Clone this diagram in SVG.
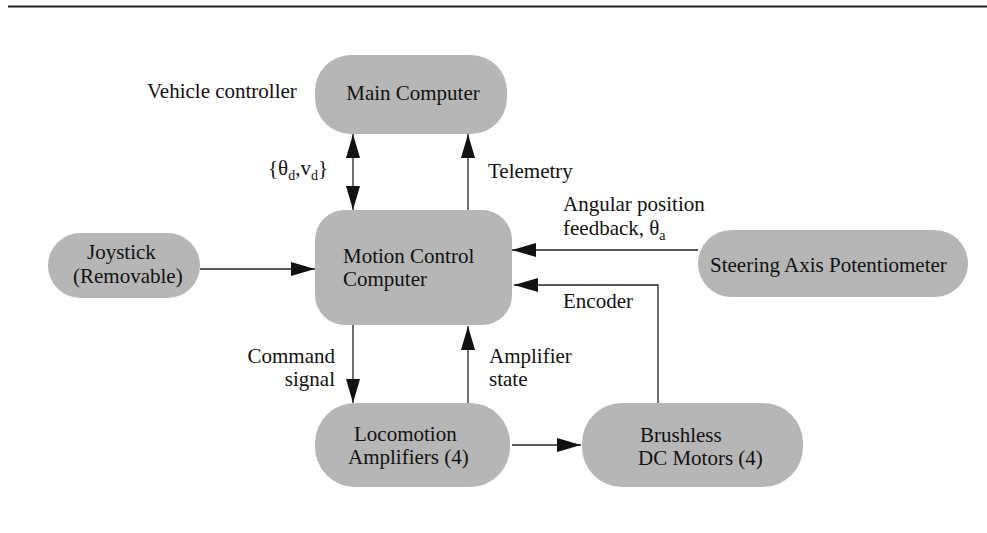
<svg xmlns="http://www.w3.org/2000/svg" width="987" height="533" viewBox="0 0 987 533">
<style>
.node{fill:#b6b6b6;stroke:none}
.t{font-family:"Liberation Serif","Times New Roman",serif;font-size:21px;fill:#111}
.sub{font-size:14px}
.c{fill:none;stroke:#222;stroke-width:1.3}
</style>
<defs>
<marker id="ah" markerUnits="userSpaceOnUse" markerWidth="24" markerHeight="14" refX="24" refY="7" orient="auto-start-reverse" viewBox="0 0 24 14">
<path d="M0,0 L24,7 L0,14 z" fill="#111"/>
</marker>
</defs>
<rect width="987" height="533" fill="#fff"/>
<line x1="8" y1="6.5" x2="987" y2="6.5" stroke="#222" stroke-width="2"/>

<g id="connectors">
<path class="c" d="M353,134 L353,210" marker-start="url(#ah)" marker-end="url(#ah)"/>
<path class="c" d="M468,210 L468,134" marker-end="url(#ah)"/>
<path class="c" d="M200,269 L315,269" marker-end="url(#ah)"/>
<path class="c" d="M698,250 L512,250" marker-end="url(#ah)"/>
<path class="c" d="M658,403 L658,285 L514,285" marker-end="url(#ah)"/>
<path class="c" d="M353,325 L353,403" marker-end="url(#ah)"/>
<path class="c" d="M468,403 L468,326" marker-end="url(#ah)"/>
<path class="c" d="M512,445 L581,445" marker-end="url(#ah)"/>
</g>

<g id="labels">
<text class="t" x="147" y="98">Vehicle controller</text>
<text class="t" x="268" y="175">{θ<tspan class="sub" dy="5">d</tspan><tspan dy="-5">,v</tspan><tspan class="sub" dy="5">d</tspan><tspan dy="-5">}</tspan></text>
<text class="t" x="488" y="178">Telemetry</text>
<text class="t" x="563" y="211">Angular position</text>
<text class="t" x="563" y="235">feedback, θ<tspan class="sub" dy="5">a</tspan></text>
<text class="t" x="563" y="308">Encoder</text>
<text class="t" x="335" y="363" text-anchor="end">Command</text>
<text class="t" x="335" y="386" text-anchor="end">signal</text>
<text class="t" x="489" y="363">Amplifier</text>
<text class="t" x="489" y="386">state</text>
</g>

<g id="main-computer">
<rect class="node" x="315" y="55" width="192" height="79" rx="36" ry="36"/>
<text class="t" x="413" y="100" text-anchor="middle">Main Computer</text>
</g>

<g id="motion-control-computer">
<rect class="node" x="315" y="210" width="197" height="115" rx="30" ry="30"/>
<text class="t" x="343" y="263">Motion Control</text>
<text class="t" x="343" y="286">Computer</text>
</g>

<g id="joystick">
<rect class="node" x="48" y="233" width="152" height="65" rx="32.5" ry="32.5"/>
<text class="t" x="87" y="259">Joystick</text>
<text class="t" x="73" y="283">(Removable)</text>
</g>

<g id="steering-axis-potentiometer">
<rect class="node" x="698" y="230" width="270" height="67" rx="33.5" ry="33.5"/>
<text class="t" x="710" y="272">Steering Axis Potentiometer</text>
</g>

<g id="locomotion-amplifiers">
<rect class="node" x="315" y="403" width="195" height="84" rx="40" ry="40"/>
<text class="t" x="354" y="441">Locomotion</text>
<text class="t" x="348" y="464">Amplifiers (4)</text>
</g>

<g id="brushless-dc-motors">
<rect class="node" x="582" y="403" width="221" height="84" rx="40" ry="40"/>
<text class="t" x="640" y="442">Brushless</text>
<text class="t" x="638" y="465">DC Motors (4)</text>
</g>
</svg>
